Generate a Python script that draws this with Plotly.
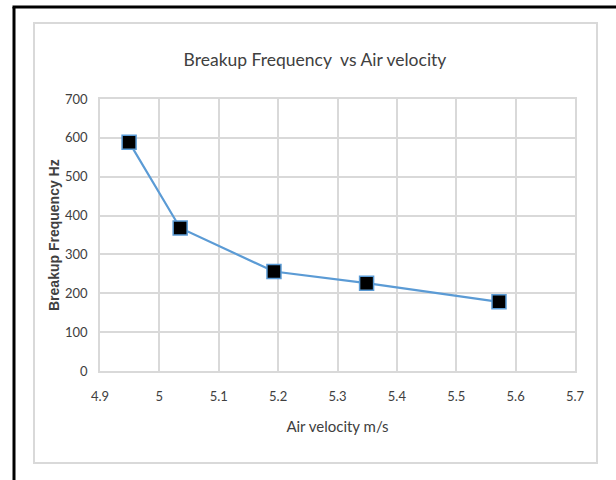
import plotly.graph_objects as go

# Measured breakup frequency against air velocity
air_velocity = [4.949, 5.035, 5.193, 5.349, 5.572]
breakup_freq = [589, 368, 256, 226, 178]

x_ticks = [4.9, 5.0, 5.1, 5.2, 5.3, 5.4, 5.5, 5.6, 5.7]
y_ticks = [0, 100, 200, 300, 400, 500, 600, 700]

W, H = 616, 480
L, R, T, B = 100, 41, 99, 109
pw, ph = W - L - R, H - T - B


def px_x(x):
    return (x - L) / pw


def px_y(y):
    return (H - B - y) / ph


humanist = "Lato, Open Sans, sans-serif"

fig = go.Figure()
fig.add_trace(go.Scatter(
    x=air_velocity,
    y=breakup_freq,
    mode="lines+markers",
    line=dict(color="#5B9BD5", width=2.2),
    marker=dict(symbol="square", size=14, color="black",
                line=dict(color="#5B9BD5", width=1.5)),
    showlegend=False,
))

shapes = [
    # outer frame (left and top edges)
    dict(type="line", xref="paper", yref="paper",
         x0=px_x(14), x1=px_x(14), y0=px_y(7), y1=px_y(490),
         line=dict(color="black", width=3)),
    dict(type="line", xref="paper", yref="paper",
         x0=px_x(12.5), x1=px_x(630), y0=px_y(7), y1=px_y(7),
         line=dict(color="black", width=3)),
    # chart area border
    dict(type="rect", xref="paper", yref="paper",
         x0=px_x(34), x1=px_x(597), y0=px_y(23), y1=px_y(463),
         line=dict(color="#d9d9d9", width=2), layer="below"),
]

# vertical axis title placed beside the tick labels
annotations = [
    dict(text="<b>Breakup Frequency Hz</b>", xref="paper", yref="paper",
         x=px_x(54), y=px_y(235), xanchor="center", yanchor="middle",
         textangle=-90, showarrow=False,
         font=dict(family="Liberation Sans, Arial, sans-serif",
                   size=14, color="#404040")),
]

fig.update_layout(
    width=W, height=H,
    margin=dict(l=L, r=R, t=T, b=B),
    paper_bgcolor="white",
    plot_bgcolor="white",
    shapes=shapes,
    annotations=annotations,
    title=dict(text="Breakup Frequency  vs Air velocity",
               x=315 / W, xanchor="center",
               y=1 - 60 / H, yanchor="middle",
               font=dict(family=humanist, size=17.5, color="#404040")),
    xaxis=dict(
        range=[4.9, 5.7], tickvals=x_ticks,
        ticktext=[f"{v:g}" for v in x_ticks],
        showgrid=True, gridcolor="#d9d9d9", gridwidth=1.5,
        showline=True, linecolor="#d9d9d9", linewidth=1.5, mirror=True,
        zeroline=False, ticks="", ticklabelstandoff=13,
        tickfont=dict(family=humanist, size=13, color="#404040"),
        title=dict(text="Air velocity m/s", standoff=18,
                   font=dict(family=humanist, size=15, color="#404040")),
    ),
    yaxis=dict(
        range=[0, 700], tickvals=y_ticks,
        showgrid=True, gridcolor="#d9d9d9", gridwidth=1.5,
        showline=True, linecolor="#d9d9d9", linewidth=1.5, mirror=True,
        zeroline=False, ticks="", ticklabelstandoff=8,
        tickfont=dict(family=humanist, size=13, color="#404040"),
    ),
)

fig.write_html("out.html")
